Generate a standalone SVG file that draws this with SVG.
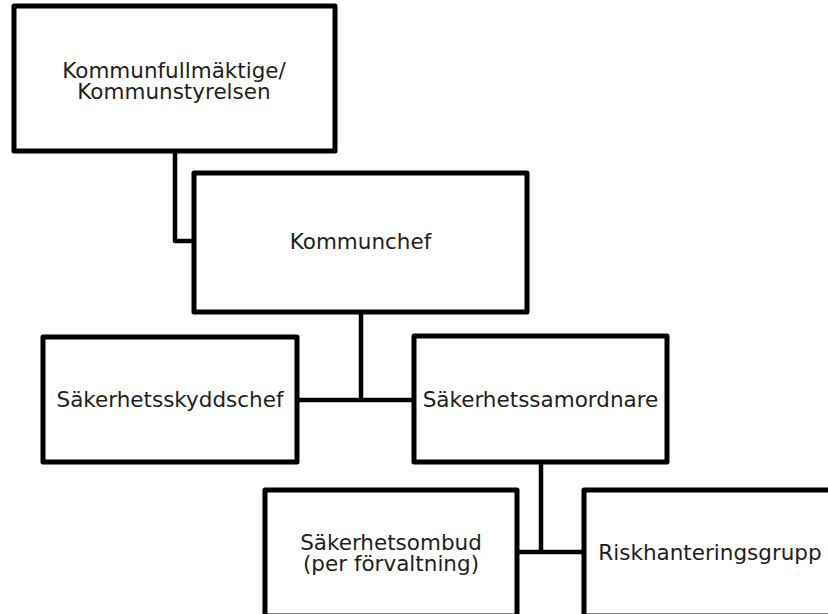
<svg xmlns="http://www.w3.org/2000/svg" width="828" height="614" viewBox="0 0 828 614">
<style>
.box{fill:#fff;stroke:#000;stroke-width:5;stroke-linejoin:round}
.conn{fill:none;stroke:#000;stroke-width:4.5;stroke-linejoin:round}
.t{font-family:"DejaVu Sans",Verdana,sans-serif;font-size:21.5px;fill:#1e1e1e;text-anchor:middle}
</style>
<rect width="828" height="614" fill="#fff"/>
<g id="connectors">
<polyline class="conn" points="175,151 175,241 194,241"/>
<polyline class="conn" points="361,312 361,400"/>
<line class="conn" x1="297" y1="400" x2="414" y2="400"/>
<polyline class="conn" points="541,462 541,552"/>
<line class="conn" x1="517" y1="552" x2="584" y2="552"/>
</g>
<g id="kommunfullmaktige">
<rect class="box" x="14" y="6" width="321" height="145"/>
<text class="t" x="174" y="77.5">Kommunfullmäktige/</text>
<text class="t" x="174" y="99">Kommunstyrelsen</text>
</g>
<g id="kommunchef">
<rect class="box" x="194" y="173" width="333" height="139"/>
<text class="t" x="360.5" y="249">Kommunchef</text>
</g>
<g id="sakerhetsskyddschef">
<rect class="box" x="43" y="337" width="254" height="125"/>
<text class="t" x="170" y="407">Säkerhetsskyddschef</text>
</g>
<g id="sakerhetssamordnare">
<rect class="box" x="414" y="336" width="253" height="126"/>
<text class="t" x="540.5" y="407">Säkerhetssamordnare</text>
</g>
<g id="sakerhetsombud">
<rect class="box" x="265" y="490" width="252" height="126"/>
<text class="t" x="391" y="549.5">Säkerhetsombud</text>
<text class="t" x="391" y="571">(per förvaltning)</text>
</g>
<g id="riskhanteringsgrupp">
<rect class="box" x="584" y="490" width="252" height="126"/>
<text class="t" x="710" y="560">Riskhanteringsgrupp</text>
</g>
</svg>
